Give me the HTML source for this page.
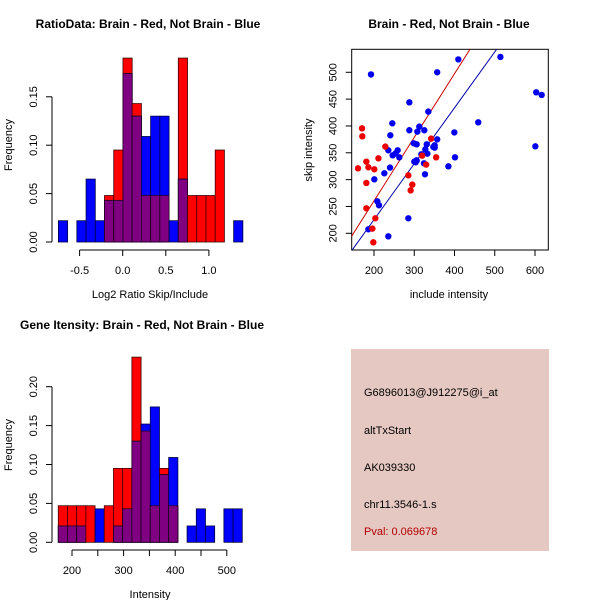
<!DOCTYPE html>
<html><head><meta charset="utf-8"><style>
body{margin:0;background:#fff}
svg{display:block;font-family:"Liberation Sans",sans-serif}
</style></head><body>
<svg id="c" width="600" height="600" viewBox="0 0 600 600">
<rect width="600" height="600" fill="#fff"/>
<g id="p1"></g>
<g id="p2"></g>
<g id="p3"></g>
<g>
<rect x="351" y="349" width="198" height="202" fill="#e6c8c2"/>
<text x="364" y="396" font-size="11">G6896013@J912275@i_at</text>
<text x="364" y="434" font-size="11">altTxStart</text>
<text x="364" y="471" font-size="11">AK039330</text>
<text x="364" y="508" font-size="11">chr11.3546-1.s</text>
<text x="364" y="535" font-size="11" fill="#b00000">Pval: 0.069678</text>
</g>
</svg>
<script>
// ---- data ----
const ratioBreakStart = -0.746;
const ratioBinWidth = 0.107;
const ratioRed  = [0,0,0,0,0,0.048,0.095,0.19,0.143,0.048,0.048,0.048,0,0.19,0.048,0.048,0.048,0.095,0,0];
const ratioBlue = [0.022,0,0.022,0.065,0.022,0.043,0.043,0.174,0.13,0.109,0.13,0.13,0.022,0.065,0,0,0,0,0,0.022];
const ratioXTicks = [-0.5,0,0.5,1.0];
const ratioXLabels = ["-0.5","0.0","0.5","1.0"];
const ratioYTicks = [0,0.05,0.10,0.15];
const ratioYLabels = ["0.00","0.05","0.10","0.15"];

const intBreakStart = 173.4;
const intBinWidth = 17.83;
const intRed  = [0.047,0.047,0.047,0.047,0,0.047,0.095,0.095,0.238,0.143,0.047,0.095,0.047,0,0,0,0,0,0,0];
const intBlue = [0.021,0.021,0.021,0,0.043,0,0.021,0.043,0.13,0.152,0.174,0.087,0.109,0,0.021,0.043,0.021,0,0.043,0.043];
const intXTicks = [200,250,300,350,400,450,500];
const intXLabels = ["200","","300","","400","","500"];
const intYTicks = [0,0.05,0.10,0.15,0.20];
const intYLabels = ["0.00","0.05","0.10","0.15","0.20"];

const blueX = [192.5,409.5,514,357,603,616.6,287.8,335,245.5,459,312.6,287.8,325,307.7,399.6,240.6,357,298.6,306,331,350.7,600.8,347.3,327.5,350.7,235.6,258.8,253.8,262.9,246.4,317.6,332.5,305.4,306,300.2,303.5,401.2,324.2,239.8,384.8,225.7,326.7,200.8,186,208.3,212.4,285.3,235.6];
const blueY = [496,524,528.6,500,462.7,457.8,444,426.7,405,406.8,398.8,392,392,389.4,388,382.6,375,367.7,365.8,365.8,364,362,361,356.5,359.6,354.7,354.7,349,341.6,345.3,347.2,348.4,336,335.4,333.5,332.3,341.6,330.4,322.4,324.8,311.8,310,300.6,207.5,259.6,252.2,228,194.4];
const redX = [170.2,171,181,211,228.2,160.3,186,200.8,181,181,203.3,196,198.3,342,319.7,329.6,354.4,285.3,295.2,291];
const redY = [395.6,380.7,333.5,339.7,361.5,321,323,319.3,293.8,246.6,228,208.7,183.2,376.4,344.7,328,341.6,308,290.7,280];
const redFit = [23.3,1.185];   // intercept, slope
const blueFit = [17.0,1.042];
const scXTicks = [200,300,400,500,600];
const scYTicks = [200,250,300,350,400,450,500];

// ---- helpers ----
const NS="http://www.w3.org/2000/svg";
function mk(parent,tag,attrs,text){const e=document.createElementNS(NS,tag);for(const k in attrs)e.setAttribute(k,attrs[k]);if(text!==undefined)e.textContent=text;parent.appendChild(e);return e;}

function histogram(g,cfg){
  const sx=v=>cfg.x0px+(v-cfg.x0)*cfg.kx;
  const sy=v=>cfg.y0px-v*cfg.ky;
  for(let i=0;i<cfg.red.length;i++){
    const a=sx(cfg.bs+i*cfg.bw), b=sx(cfg.bs+(i+1)*cfg.bw);
    const r=cfg.red[i], bl=cfg.blue[i], m=Math.min(r,bl);
    if(r>0){const e=mk(g,'rect',{x:a,y:sy(r),width:b-a,height:sy(0)-sy(r),fill:'#ff0000',stroke:'#400000','stroke-width':0.8});
      }
    if(bl>0){const e=mk(g,'rect',{x:a,y:sy(bl),width:b-a,height:sy(0)-sy(bl),fill:'#0000ff',stroke:'#000040','stroke-width':0.8});
      }
    if(m>0){const e=mk(g,'rect',{x:a,y:sy(m),width:b-a,height:sy(0)-sy(m),fill:'#7f0080',stroke:'#200020','stroke-width':0.8});
      }
  }
  const yt=cfg.yTicks;
  let e=mk(g,'line',{x1:cfg.yAxisX,x2:cfg.yAxisX,y1:sy(yt[0]),y2:sy(yt[yt.length-1]),stroke:'#000'});
  
  const lx=cfg.yAxisX-15;
  yt.forEach((v,i)=>{mk(g,'line',{x1:cfg.yAxisX-6,x2:cfg.yAxisX,y1:sy(v),y2:sy(v),stroke:'#000'});
    const t=mk(g,'text',{x:lx,y:sy(v),'font-size':11,'text-anchor':'middle',transform:`rotate(-90 ${lx} ${sy(v)})`},cfg.yLabels[i]);
    });
  const xt=cfg.xTicks;
  e=mk(g,'line',{x1:sx(xt[0]),x2:sx(xt[xt.length-1]),y1:cfg.xAxisY,y2:cfg.xAxisY,stroke:'#000'});
  
  xt.forEach((v,i)=>{mk(g,'line',{x1:sx(v),x2:sx(v),y1:cfg.xAxisY,y2:cfg.xAxisY+6,stroke:'#000'});
    if(cfg.xLabels[i]){const t=mk(g,'text',{x:sx(v),y:cfg.xAxisY+24,'font-size':11,'text-anchor':'middle'},cfg.xLabels[i]);
    }});
  e=mk(g,'text',{x:cfg.titleX,y:cfg.titleY,'font-size':12,'font-weight':'bold','text-anchor':'middle'},cfg.title);
  
  e=mk(g,'text',{x:cfg.xlabX,y:cfg.xAxisY+48,'font-size':11,'text-anchor':'middle'},cfg.xlab);
  
  e=mk(g,'text',{x:12,y:cfg.ylabY,'font-size':11,'text-anchor':'middle',transform:`rotate(-90 12 ${cfg.ylabY})`},'Frequency');
  
}

histogram(document.getElementById('p1'),{
  x0:0,x0px:122.7,kx:86.2,y0px:242,ky:968,bs:ratioBreakStart,bw:ratioBinWidth,
  red:ratioRed,blue:ratioBlue,yTicks:ratioYTicks,yLabels:ratioYLabels,xTicks:ratioXTicks,xLabels:ratioXLabels,
  yAxisX:52,xAxisY:250,title:'RatioData: Brain - Red, Not Brain - Blue',titleX:148,titleY:28,
  xlab:'Log2 Ratio Skip/Include',xlabX:150,ylabY:145});
histogram(document.getElementById('p3'),{
  x0:200,x0px:72,kx:0.516,y0px:542.3,ky:778,bs:intBreakStart,bw:intBinWidth,
  red:intRed,blue:intBlue,yTicks:intYTicks,yLabels:intYLabels,xTicks:intXTicks,xLabels:intXLabels,
  yAxisX:52,xAxisY:550,title:'Gene Itensity: Brain - Red, Not Brain - Blue',titleX:142,titleY:329,
  xlab:'Intensity',xlabX:150,ylabY:445});

(function(){
  const g=document.getElementById('p2');
  const L=351.7,R=548.3,T=49.3,B=250;
  const sx=v=>374+(v-200)*0.4025;
  const sy=v=>233.3-(v-200)*0.5367;
  mk(g,'clipPath',{id:'clip'});
  mk(document.getElementById('clip'),'rect',{x:L,y:T,width:R-L,height:B-T});
  let e=mk(g,'rect',{x:L,y:T,width:R-L,height:B-T,fill:'none',stroke:'#000'});
  
  const xa=100,xb=700;
  e=mk(g,'line',{x1:sx(xa),y1:sy(redFit[0]+redFit[1]*xa),x2:sx(xb),y2:sy(redFit[0]+redFit[1]*xb),stroke:'#cc0000','clip-path':'url(#clip)'});
  
  e=mk(g,'line',{x1:sx(xa),y1:sy(blueFit[0]+blueFit[1]*xa),x2:sx(xb),y2:sy(blueFit[0]+blueFit[1]*xb),stroke:'#0000aa','clip-path':'url(#clip)'});
  
  blueX.forEach((v,i)=>{const c=mk(g,'circle',{cx:sx(v),cy:sy(blueY[i]),r:3.2,fill:'#0000ee'});
    });
  redX.forEach((v,i)=>{const c=mk(g,'circle',{cx:sx(v),cy:sy(redY[i]),r:3.2,fill:'#ee0000'});
    });
  scXTicks.forEach(v=>{mk(g,'line',{x1:sx(v),x2:sx(v),y1:B,y2:B+6,stroke:'#000'});
    const t=mk(g,'text',{x:sx(v),y:B+24,'font-size':11,'text-anchor':'middle'},String(v));
    });
  const lx=L-15;
  scYTicks.forEach(v=>{mk(g,'line',{x1:L-6,x2:L,y1:sy(v),y2:sy(v),stroke:'#000'});
    const t=mk(g,'text',{x:lx,y:sy(v),'font-size':11,'text-anchor':'middle',transform:`rotate(-90 ${lx} ${sy(v)})`},String(v));
    });
  e=mk(g,'text',{x:449,y:28,'font-size':12,'font-weight':'bold','text-anchor':'middle'},'Brain - Red, Not Brain - Blue');
  
  e=mk(g,'text',{x:449,y:298,'font-size':11,'text-anchor':'middle'},'include intensity');
  
  e=mk(g,'text',{x:312,y:150,'font-size':11,'text-anchor':'middle',transform:'rotate(-90 312 150)'},'skip intensity');
  
})();
</script>
</body></html>
